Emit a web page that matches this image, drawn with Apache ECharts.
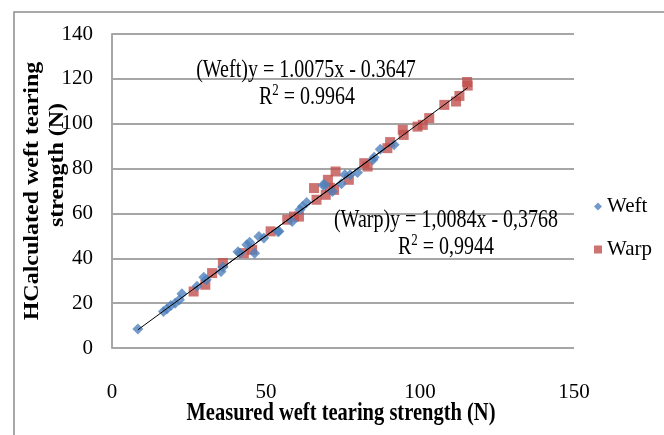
<!DOCTYPE html>
<html><head><meta charset="utf-8">
<script src="https://cdn.jsdelivr.net/npm/echarts@6/dist/echarts.min.js"></script>
<style>html,body{margin:0;padding:0;background:#fff}#c{width:664px;height:435px}</style>
</head><body><div id="c"></div>
<script>
// Weft series: [measured, calculated]
var weftData = [[8.4,8.5],[16.7,16.3],[17.8,17.4],[19.1,18.9],[20.5,20.0],[21.9,21.5],[22.7,24.2],[27.6,27.5],[29.8,31.6],[30.6,30.4],[35.4,34.1],[36.0,36.1],[40.9,42.9],[41.5,42.3],[43.8,46.0],[44.7,47.1],[46.3,42.3],[47.7,49.7],[49.3,49.0],[53.9,51.8],[54.2,52.0],[58.5,56.4],[61.0,61.6],[61.8,63.1],[63.2,64.9],[68.5,72.7],[69.1,72.8],[71.6,69.8],[74.5,73.2],[75.6,77.2],[77.3,77.2],[79.7,78.2],[84.7,83.9],[85.1,85.1],[87.1,88.6],[91.6,90.6]];
// Warp series
var warpData = [[26.5,25.2],[30.3,28.2],[32.5,33.4],[36.0,37.9],[42.8,42.3],[45.5,43.8],[51.5,52.0],[56.9,57.2],[59.1,58.6],[60.7,58.6],[65.6,71.3],[66.4,66.1],[69.4,68.3],[70.1,75.0],[70.8,71.4],[72.1,70.5],[72.6,78.7],[76.9,75.0],[81.9,82.4],[83.0,80.9],[89.4,89.1],[90.3,91.8],[94.4,97.3],[94.7,95.0],[99.2,98.7],[100.9,99.5],[103.0,102.5],[107.9,108.4],[111.7,109.9],[112.8,112.4],[115.3,118.6],[115.5,117.0]];
// Trendline end points
var weftTrend = [[8.4,8.1],[91.6,91.9]];
var warpTrend = [[26.5,26.3],[115.5,116.1]];
// Texts
var seriesNames = ['Weft','Warp'];
var xTitle = 'Measured weft tearing strength (N)';
var yTitle1 = 'HCalculated weft tearing';
var yTitle2 = 'strength (N)';
var eqWeft = '(Weft)y = 1.0075x - 0.3647';
var r2Weft = '0.9964';
var eqWarp = '(Warp)y = 1,0084x - 0,3768';
var r2Warp = '0,9944';

var FONT = 'Liberation Serif';
var chart = echarts.init(document.getElementById('c'), null, {renderer:'canvas'});
function txt(x,y,t,opt){
  opt = opt||{};
  return {type:'text', x:x, y:y, rotation:opt.rot||0, scaleX:opt.sx||1, scaleY:opt.sy||1, z:100,
    style:{text:t, fill:'#000', font:(opt.bold?'bold ':'')+(opt.size||20)+'px "'+FONT+'"',
      textAlign:'center', textVerticalAlign:'middle', rich:opt.rich}};
}
var richR = {sup:{fontSize:13, verticalAlign:'top', padding:[0,0,10,0], fontFamily:FONT}};
chart.setOption({
  animation:false,
  grid:{left:112, right:90, top:34, bottom:87, containLabel:false},
  xAxis:{type:'value', min:0, max:150, interval:50,
    axisLine:{show:false}, axisTick:{show:false}, splitLine:{show:false},
    axisLabel:{color:'#000', fontFamily:FONT, fontSize:21, margin:34}},
  yAxis:{type:'value', min:0, max:140, interval:20,
    axisLine:{show:true, lineStyle:{color:'#A6A6A6', width:2}}, axisTick:{show:false},
    splitLine:{show:true, lineStyle:{color:'#A6A6A6', width:2}},
    axisLabel:{color:'#000', fontFamily:FONT, fontSize:21, margin:19}},
  legend:{orient:'vertical', left:589, top:191, itemGap:22, itemWidth:8, itemHeight:8,
    textStyle:{fontFamily:FONT, fontSize:21, color:'#000', padding:[0,0,0,0]},
    data:[{name:seriesNames[0], icon:'diamond'},{name:seriesNames[1], icon:'rect'}]},
  series:[
    {name:seriesNames[0], type:'scatter', symbol:'diamond', symbolSize:11, data:weftData,
      itemStyle:{color:'#4F81BD'}, z:3},
    {name:seriesNames[1], type:'scatter', symbol:'rect', symbolSize:10, data:warpData,
      itemStyle:{color:'#C0504D'}, z:2},
    {type:'line', data:weftTrend, symbol:'none', silent:true, lineStyle:{color:'#000', width:1}, z:5},
    {type:'line', data:warpTrend, symbol:'none', silent:true, lineStyle:{color:'#000', width:1}, z:5}
  ],
  graphic:[
    {type:'rect', shape:{x:14, y:12, width:700, height:500}, style:{fill:'none', stroke:'#8C8C8C', lineWidth:1.5}, silent:true},
    txt(306,70,eqWeft,{sy:1.25}),
    txt(307,97,'R{sup|2} = '+r2Weft,{sy:1.25, rich:richR}),
    txt(446,220,eqWarp,{sy:1.25}),
    txt(446,247,'R{sup|2} = '+r2Warp,{sy:1.25, rich:richR}),
    txt(341,413,xTitle,{bold:true, size:20.5, sy:1.25}),
    txt(33,191,yTitle1,{bold:true, size:20, sx:1.2, rot:Math.PI/2}),
    txt(58,165,yTitle2,{bold:true, size:20, sx:1.2, rot:Math.PI/2})
  ]
});
</script></body></html>
